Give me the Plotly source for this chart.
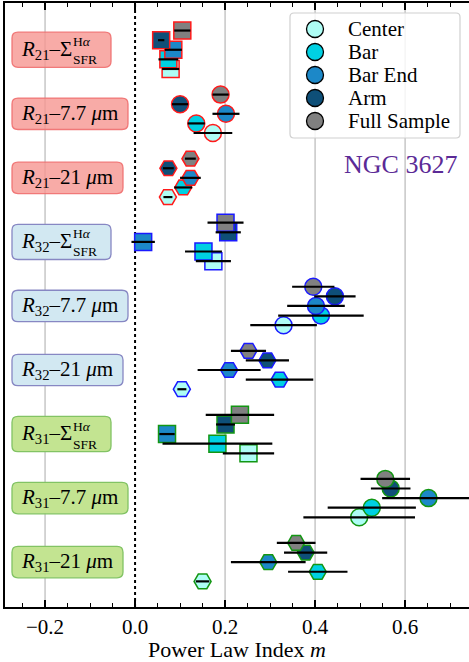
import plotly.graph_objects as go

# ---------------- data ----------------
groups = ["R21-SFR", "R21-7.7", "R21-21",
          "R32-SFR", "R32-7.7", "R32-21",
          "R31-SFR", "R31-7.7", "R31-21"]
ratio_names = ["21", "32", "31"]
tracer_names = ["SFR", "7.7 <i>μ</i>m", "21 <i>μ</i>m"]
regions = ["Center", "Bar", "Bar End", "Arm", "Full Sample"]

m_center = [0.079, 0.173, 0.073, 0.174, 0.330, 0.104, 0.252, 0.498, 0.150]
e_center = [0.019, 0.043, 0.010, 0.039, 0.074, 0.010, 0.057, 0.124, 0.015]
m_bar = [0.074, 0.136, 0.107, 0.152, 0.413, 0.321, 0.183, 0.526, 0.406]
e_bar = [0.022, 0.019, 0.020, 0.041, 0.095, 0.075, 0.122, 0.098, 0.066]
m_barend = [0.085, 0.202, 0.123, 0.018, 0.402, 0.209, 0.071, 0.652, 0.296]
e_barend = [0.019, 0.030, 0.023, 0.026, 0.064, 0.070, 0.017, 0.103, 0.083]
m_arm = [0.058, 0.100, 0.074, 0.207, 0.444, 0.294, 0.201, 0.568, 0.379]
e_arm = [0.007, 0.018, 0.012, 0.028, 0.046, 0.048, 0.021, 0.044, 0.048]
m_full = [0.105, 0.190, 0.123, 0.201, 0.396, 0.252, 0.233, 0.556, 0.358]
e_full = [0.018, 0.018, 0.012, 0.040, 0.047, 0.039, 0.076, 0.055, 0.043]

x_ticks = [-0.2, 0.0, 0.2, 0.4, 0.6]
x_ticktext = ["−0.2", "0.0", "0.2", "0.4", "0.6"]

# ---------------- style ----------------
FONT = "Liberation Serif"
W, H = 469, 662
ML, MR, MT, MB = 5, 0, 3, 55
PW, PH = W - ML - MR, H - MT - MB


def px(p):   # pixel x -> paper x
    return (p - ML) / PW


def py(p):   # pixel y -> paper y
    return 1 - (p - MT) / PH


face = {"Center": "#aefdf5", "Bar": "#00d0e2", "Bar End": "#1c88c8",
        "Arm": "#0e4f78", "Full Sample": "#808080"}
offset = {"Center": 0.3, "Bar": 0.15, "Bar End": 0.0, "Arm": -0.15, "Full Sample": -0.3}
symbols = ["square", "circle", "hexagon2"]
edge_by_ratio = ["#ff1a1a", "#1a1aff", "#139613"]
label_fill = ["rgba(246,150,145,0.8)", "rgba(210,232,242,1)", "rgba(195,228,145,1)"]
label_edge = ["rgba(240,110,110,0.9)", "rgba(135,135,195,1)", "rgba(130,195,100,1)"]
box_w_px = [99, 116, 111]
box_h_y = [0.55, 0.49, 0.49]

values = {"Center": (m_center, e_center), "Bar": (m_bar, e_bar),
          "Bar End": (m_barend, e_barend), "Arm": (m_arm, e_arm),
          "Full Sample": (m_full, e_full)}

fig = go.Figure()

# markers
for reg in regions:
    m, e = values[reg]
    for gi in range(len(groups)):
        fig.add_trace(go.Scatter(
            x=[m[gi]], y=[gi + offset[reg]], mode="markers",
            marker=dict(symbol=symbols[gi % 3], size=17, color=face[reg],
                        line=dict(color=edge_by_ratio[gi // 3], width=1.5)),
            showlegend=False, hoverinfo="skip"))

# error bars (drawn on top)
ex, ey = [], []
for reg in regions:
    m, e = values[reg]
    for gi in range(len(groups)):
        ex += [m[gi] - e[gi], m[gi] + e[gi], None]
        ey += [gi + offset[reg]] * 2 + [None]
fig.add_trace(go.Scatter(x=ex, y=ey, mode="lines",
                         line=dict(color="black", width=2.2),
                         showlegend=False, hoverinfo="skip"))

# manual legend (on overlay axes spanning the plot area in paper fractions)
leg_x_marker = px(315)
leg_x_text = px(346)
leg_rows_px = [29, 52, 75, 98, 121]
fig.add_trace(go.Scatter(
    x=[leg_x_marker] * len(regions), y=[py(r) for r in leg_rows_px],
    xaxis="x2", yaxis="y2", mode="markers",
    marker=dict(symbol="circle", size=17, color=[face[r] for r in regions],
                line=dict(color="black", width=1.3)),
    showlegend=False, hoverinfo="skip"))


def rrect(x0, x1, y0, y1, rx, ry):
    return (f"M{x0+rx},{y0} L{x1-rx},{y0} Q{x1},{y0} {x1},{y0+ry} "
            f"L{x1},{y1-ry} Q{x1},{y1} {x1-rx},{y1} L{x0+rx},{y1} "
            f"Q{x0},{y1} {x0},{y1-ry} L{x0},{y0+ry} Q{x0},{y0} {x0+rx},{y0} Z")


shapes = []
for t in x_ticks:
    if t != 0:
        shapes.append(dict(type="line", xref="x", yref="paper", x0=t, x1=t, y0=0, y1=1,
                           line=dict(color="#b8b8b8", width=1.2), layer="below"))
shapes.append(dict(type="line", xref="x", yref="paper", x0=0, x1=0, y0=0, y1=1,
                   line=dict(color="black", width=2, dash="dot"), layer="below"))
# legend frame
shapes.append(dict(type="path", xref="paper", yref="paper",
                   path=rrect(px(290), px(460), py(138), py(13), 4 / PW, 4 / PH),
                   fillcolor="rgba(255,255,255,0.82)",
                   line=dict(color="#d0d0d0", width=1.2), layer="below"))

annotations = []
for gi in range(len(groups)):
    ri, ti = gi // 3, gi % 3
    hy = box_h_y[ti] / 2
    shapes.append(dict(type="path", xref="paper", yref="y",
                       path=rrect(px(12), px(12 + box_w_px[ti]), gi - hy, gi + hy,
                                  6 / PW, 0.09),
                       fillcolor=label_fill[ri],
                       line=dict(color=label_edge[ri], width=1.3), layer="above"))
    if ti == 0:
        main = f"<i>R</i><sub>{ratio_names[ri]}</sub>–Σ"
    else:
        main = f"<i>R</i><sub>{ratio_names[ri]}</sub>–{tracer_names[ti]}"
    annotations.append(dict(
        x=px(19), xref="paper", y=gi, yref="y", xanchor="left", yanchor="middle",
        text=main, showarrow=False, font=dict(family=FONT, size=21, color="black")))
    if ti == 0:
        annotations.append(dict(
            x=px(72), xref="paper", y=gi, yref="y", xanchor="left", yanchor="middle",
            yshift=-1, text="H<i>α</i><br>SFR", align="left", showarrow=False,
            borderpad=0, font=dict(family=FONT, size=13.5, color="black")))

for r, row in zip(regions, leg_rows_px):
    annotations.append(dict(
        x=leg_x_text, xref="paper", y=py(row), yref="paper", xanchor="left",
        yanchor="middle", text=r, showarrow=False,
        font=dict(family=FONT, size=21, color="black")))

annotations.append(dict(
    x=px(459), xref="paper", y=py(165), yref="paper", xanchor="right", yanchor="middle",
    text="NGC 3627", showarrow=False,
    font=dict(family=FONT, size=26, color="#5b2a96")))

fig.update_layout(
    width=W, height=H,
    margin=dict(l=ML, r=MR, t=MT, b=MB),
    plot_bgcolor="white", paper_bgcolor="white",
    font=dict(family=FONT, size=20, color="black"),
    showlegend=False,
    shapes=shapes, annotations=annotations,
    xaxis=dict(range=[-0.289, 0.742], tickvals=x_ticks, ticktext=x_ticktext,
               showgrid=False, zeroline=False,
               showline=True, linecolor="black", linewidth=2, mirror="ticks",
               ticks="inside", ticklen=7, tickwidth=1.6, tickcolor="black",
               minor=dict(dtick=0.05, tick0=0, ticks="inside", ticklen=4,
                          tickwidth=1.2, tickcolor="black", showgrid=False),
               tickfont=dict(family=FONT, size=21),
               title=dict(text="Power Law Index <i>m</i>",
                          font=dict(family=FONT, size=22), standoff=7)),
    yaxis=dict(range=[8.70, -0.73], showticklabels=False, showgrid=False,
               zeroline=False, showline=True, linecolor="black", linewidth=2,
               ticks=""),
    xaxis2=dict(overlaying="x", range=[0, 1], visible=False, anchor="y2"),
    yaxis2=dict(overlaying="y", range=[0, 1], visible=False, anchor="x2"),
)

fig.write_html("out.html")
